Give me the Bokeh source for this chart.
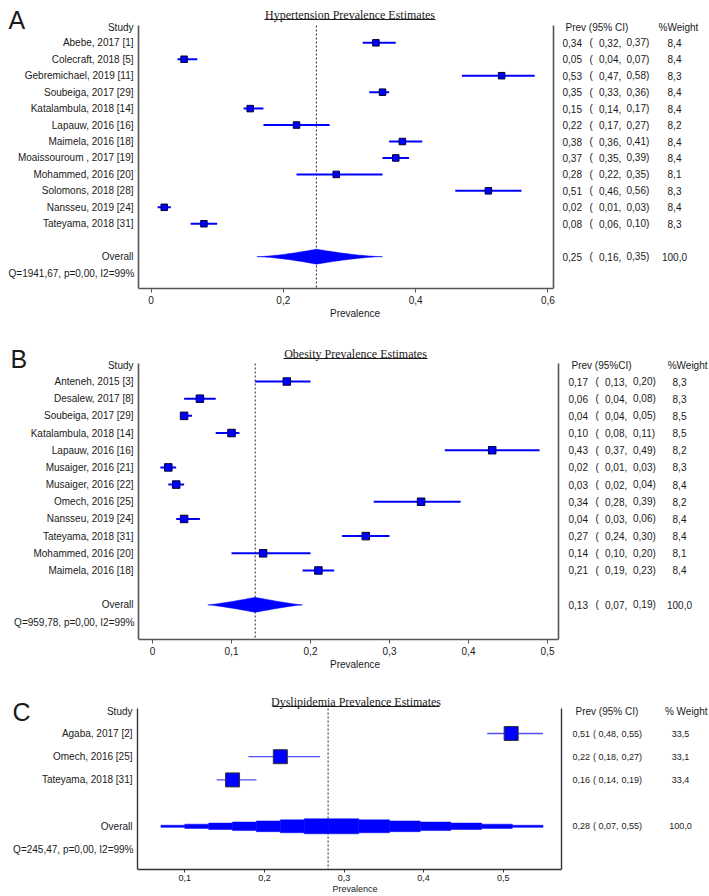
import numpy as np
from bokeh.plotting import figure
from bokeh.layouts import column
from bokeh.models import Range1d, FixedTicker, CustomJSTickFormatter
from bokeh.core.properties import value
from bokeh.embed import file_html
from bokeh.resources import INLINE

# ---------------- Panel A : Hypertension ----------------
htn_studies = ["Abebe, 2017 [1]", "Colecraft, 2018 [5]", "Gebremichael, 2019 [11]",
               "Soubeiga, 2017 [29]", "Katalambula, 2018 [14]", "Lapauw, 2016 [16]",
               "Maimela, 2016 [18]", "Moaissouroum , 2017 [19]", "Mohammed, 2016 [20]",
               "Solomons, 2018 [28]", "Nansseu, 2019 [24]", "Tateyama, 2018 [31]"]
htn_prev = [0.34, 0.05, 0.53, 0.35, 0.15, 0.22, 0.38, 0.37, 0.28, 0.51, 0.02, 0.08]
htn_lo = [0.32, 0.04, 0.47, 0.33, 0.14, 0.17, 0.36, 0.35, 0.22, 0.46, 0.01, 0.06]
htn_hi = [0.37, 0.07, 0.58, 0.36, 0.17, 0.27, 0.41, 0.39, 0.35, 0.56, 0.03, 0.10]
htn_weight = [8.4, 8.4, 8.3, 8.4, 8.4, 8.2, 8.4, 8.4, 8.1, 8.3, 8.4, 8.3]
htn_overall = [0.25, 0.16, 0.35]      # estimate, lower, upper
htn_het = [1941.67, 0.00, 99]         # Q, p, I2 (%)
htn_ticks = [0, 0.2, 0.4, 0.6]

# ---------------- Panel B : Obesity ----------------
ob_studies = ["Anteneh, 2015 [3]", "Desalew, 2017 [8]", "Soubeiga, 2017 [29]",
              "Katalambula, 2018 [14]", "Lapauw, 2016 [16]", "Musaiger, 2016 [21]",
              "Musaiger, 2016 [22]", "Omech, 2016 [25]", "Nansseu, 2019 [24]",
              "Tateyama, 2018 [31]", "Mohammed, 2016 [20]", "Maimela, 2016 [18]"]
ob_prev = [0.17, 0.06, 0.04, 0.10, 0.43, 0.02, 0.03, 0.34, 0.04, 0.27, 0.14, 0.21]
ob_lo = [0.13, 0.04, 0.04, 0.08, 0.37, 0.01, 0.02, 0.28, 0.03, 0.24, 0.10, 0.19]
ob_hi = [0.20, 0.08, 0.05, 0.11, 0.49, 0.03, 0.04, 0.39, 0.06, 0.30, 0.20, 0.23]
ob_weight = [8.3, 8.3, 8.5, 8.5, 8.2, 8.3, 8.4, 8.2, 8.4, 8.4, 8.1, 8.4]
ob_overall = [0.13, 0.07, 0.19]
ob_het = [959.78, 0.00, 99]
ob_ticks = [0, 0.1, 0.2, 0.3, 0.4, 0.5]

# ---------------- Panel C : Dyslipidemia ----------------
dys_studies = ["Agaba, 2017 [2]", "Omech, 2016 [25]", "Tateyama, 2018 [31]"]
dys_prev = [0.51, 0.22, 0.16]
dys_lo = [0.48, 0.18, 0.14]
dys_hi = [0.55, 0.27, 0.19]
dys_weight = [33.5, 33.1, 33.4]
dys_overall = [0.28, 0.07, 0.55]
dys_het = [245.47, 0.00, 99]
dys_ticks = [0.1, 0.2, 0.3, 0.4, 0.5]

SANS = "Liberation Sans"
SERIF = "Liberation Serif"
TXT = "#1a1a1a"
BLUE = "#0000ff"
W = 709


def f2(v):
    return f"{v:.2f}".replace(".", ",")


def f1(v):
    return f"{v:.1f}".replace(".", ",")


def make_panel(letter, title, studies, prev, lo, hi, weight, overall, het, ticks, c):
    zero, ppu = c["zero"], c["ppu"]
    top, row0, sp, axis_px = c["top"], c["row0"], c["sp"], c["axis"]

    def X(px):
        return (px - zero) / ppu

    def Y(px):
        return (px - row0) / sp

    height = c["height"]
    p = figure(width=W, height=height,
               x_range=Range1d(X(0), X(W)),
               y_range=Range1d(Y(axis_px), Y(top)),
               output_backend="svg", toolbar_location=None,
               y_axis_location=None,
               min_border_left=0, min_border_right=0, min_border_top=0,
               min_border_bottom=height - (axis_px - top))
    p.xgrid.visible = False
    p.ygrid.visible = False
    p.outline_line_color = None
    p.background_fill_color = "white"
    p.border_fill_color = "white"

    n = len(studies)
    rows = list(range(n))
    r_over = n + 1
    r_q = n + 2

    def txt(xs, ys, texts, align="left", size="10px", font=SANS, color=TXT):
        p.text(x=xs, y=ys, text=texts, text_align=align, text_baseline="middle",
               text_font=value(font), text_font_size=size, text_color=color)

    # spines (left / right) and dashed pooled line
    xl, xr = X(c["spine_l"]), X(c["spine_r"])
    p.segment(x0=[xl, xr], x1=[xl, xr], y0=[Y(c["ftop"])] * 2, y1=[Y(axis_px)] * 2,
              line_color=c["spine_color"], line_width=c["spine_w"])
    p.segment(x0=[overall[0]], x1=[overall[0]], y0=[Y(c["ftop"])], y1=[Y(axis_px)],
              line_color="#222222", line_width=1, line_dash="2 2")

    # confidence intervals and point estimates
    p.segment(x0=lo, x1=hi, y0=rows, y1=rows, line_color=c["ci_color"],
              line_width=c["ci_w"])
    p.scatter(x=prev, y=rows, marker="square", size=c["ms"], fill_color=BLUE,
              line_color=c["ms_line"], line_width=1)

    # pooled estimate shape
    est, olo, ohi = overall
    half = c["dh"] / sp
    if c["stepped"]:
        k = c["steps"]
        le = np.linspace(olo, est, k + 1)
        re = np.linspace(est, ohi, k + 1)
        lefts, rights, hs = [], [], []
        for i in range(k):
            lefts.append(le[i]); rights.append(le[i + 1]); hs.append(half * (i + 1) / k)
        for i in range(k):
            lefts.append(re[i]); rights.append(re[i + 1]); hs.append(half * (k - i) / k)
        hs = np.array(hs)
        p.quad(left=lefts, right=rights, top=r_over - hs, bottom=r_over + hs,
               fill_color=BLUE, line_color=BLUE, line_width=0.5)
    else:
        t = np.linspace(0, 1, 30)
        h = half * t ** c["pow"]
        ux = np.concatenate([olo + (est - olo) * t, est + (ohi - est) * t[1:]])
        uh = np.concatenate([h, h[::-1][1:]])
        xs = np.concatenate([ux, ux[::-1]])
        ys = np.concatenate([r_over - uh, (r_over + uh)[::-1]])
        p.patch(x=xs, y=ys, fill_color=BLUE, line_color=BLUE, line_width=0.5)

    # left column texts
    nr = X(c["names_r"])
    txt([nr], [Y(c["hdr_y"])], ["Study"], align="right")
    txt([nr] * n, rows, studies, align="right")
    txt([nr], [r_over], ["Overall"], align="right")
    q, pv, i2 = het
    txt([X(c["names_r"] + 1)], [r_q], [f"Q={f2(q)}, p={f2(pv)}, I2={i2:.0f}%"], align="right")

    # right column texts
    e_px, o_px, l_px, h_px = c["ci_cols"]
    nf = c["num_font"]
    all_rows = rows + [r_over]
    all_e = list(prev) + [overall[0]]
    all_l = list(lo) + [overall[1]]
    all_h = list(hi) + [overall[2]]
    all_w = list(weight) + [100.0]
    txt([X(c["prev_hdr"])], [Y(c["hdr_y"])], [c["prev_hdr_text"]])
    txt([X(c["wt_hdr"][1])], [Y(c["hdr_y"])], [c["wt_hdr_text"]], align=c["wt_hdr"][0])
    txt([X(e_px)] * len(all_rows), all_rows, [f2(v) for v in all_e], size=nf)
    txt([X(o_px)] * len(all_rows), all_rows, ["("] * len(all_rows), size=nf)
    txt([X(l_px)] * len(all_rows), all_rows, [f2(v) + "," for v in all_l], size=nf)
    txt([X(h_px)] * len(all_rows), all_rows, [f2(v) + ")" for v in all_h], size=nf)
    txt([X(c["wt_c"])] * len(all_rows), all_rows, [f1(v) for v in all_w], align="center",
        size=nf)

    # title with underline, panel letter
    txt([X(c["title_c"])], [Y(c["title_y"])], [title], align="center", size="12px",
        font=SERIF)
    p.segment(x0=[X(c["title_l"])], x1=[X(c["title_r"])],
              y0=[Y(c["title_y"] + 5)], y1=[Y(c["title_y"] + 5)],
              line_color=TXT, line_width=1)
    txt([X(c["letter_x"])], [Y(c["letter_y"])], [letter], size="25px")

    # x axis
    ax = p.xaxis[0]
    ax.bounds = (xl, xr)
    ax.ticker = FixedTicker(ticks=ticks)
    ax.formatter = CustomJSTickFormatter(
        code="return tick === 0 ? '0' : tick.toFixed(1).replace('.', ',');")
    ax.axis_label = "Prevalence"
    ax.axis_label_text_font = SANS
    ax.axis_label_text_font_style = "normal"
    ax.axis_label_text_font_size = c["ax_font"]
    ax.axis_label_text_color = TXT
    ax.axis_label_standoff = c["ax_lab_so"]
    ax.major_label_text_font = SANS
    ax.major_label_text_font_size = c["ax_font"]
    ax.major_label_text_color = TXT
    ax.major_label_standoff = c["tick_so"]
    ax.major_tick_in = 0
    ax.major_tick_out = c["tick_out"]
    ax.minor_tick_in = 0
    ax.minor_tick_out = 0
    ax.axis_line_color = c["spine_color"]
    ax.axis_line_width = c["spine_w"]
    ax.major_tick_line_color = c["spine_color"]
    return p


cfg_a = dict(zero=150.5, ppu=661.5, top=0, row0=42.3, sp=16.45, axis=288, height=330,
             ftop=25, spine_l=138, spine_r=553, spine_color="#555555", spine_w=1.6,
             ci_color=BLUE, ci_w=2, ms=6.5, ms_line="#000033", dh=7.5, stepped=False,
             pow=1.5, names_r=133, hdr_y=27, prev_hdr=565, prev_hdr_text="Prev (95% CI)",
             wt_hdr=("left", 658), wt_hdr_text="%Weight", ci_cols=(562, 589, 598.5, 626),
             wt_c=674, num_font="10px", title_c=349.5, title_l=264, title_r=435,
             title_y=14, letter_x=8, letter_y=19, ax_font="10px", ax_lab_so=1, tick_so=3,
             tick_out=4)

cfg_b = dict(zero=152, ppu=790, top=330, row0=381, sp=17.18, axis=639, height=345,
             ftop=363, spine_l=138, spine_r=558, spine_color="#555555", spine_w=1.6,
             ci_color=BLUE, ci_w=2, ms=7.5, ms_line="#000033", dh=7.5, stepped=False,
             pow=1.2, names_r=133, hdr_y=365, prev_hdr=571, prev_hdr_text="Prev (95%CI)",
             wt_hdr=("right", 707), wt_hdr_text="%Weight", ci_cols=(568, 595, 604.5, 632.5),
             wt_c=679, num_font="10px", title_c=355, title_l=283, title_r=427,
             title_y=353, letter_x=10, letter_y=358.5, ax_font="10px", ax_lab_so=1,
             tick_so=3, tick_out=4)

cfg_c = dict(zero=104.7, ppu=796, top=675, row0=733, sp=23.2, axis=869, height=221,
             ftop=708, spine_l=137, spine_r=561, spine_color="#333333", spine_w=1.4,
             ci_color="#5050ff", ci_w=1.3, ms=14, ms_line="#333333", dh=7.5, stepped=True,
             steps=7, names_r=132, hdr_y=711, prev_hdr=575, prev_hdr_text="Prev (95% CI)",
             wt_hdr=("right", 707), wt_hdr_text="% Weight", ci_cols=(572, 592.5, 598, 621),
             wt_c=680, num_font="9px", title_c=355.5, title_l=272, title_r=439,
             title_y=701, letter_x=12, letter_y=711, ax_font="9px", ax_lab_so=0,
             tick_so=2, tick_out=3)

pa = make_panel("A", "Hypertension Prevalence Estimates", htn_studies, htn_prev, htn_lo,
                htn_hi, htn_weight, htn_overall, htn_het, htn_ticks, cfg_a)
pb = make_panel("B", "Obesity Prevalence Estimates", ob_studies, ob_prev, ob_lo,
                ob_hi, ob_weight, ob_overall, ob_het, ob_ticks, cfg_b)
pc = make_panel("C", "Dyslipidemia Prevalence Estimates", dys_studies, dys_prev, dys_lo,
                dys_hi, dys_weight, dys_overall, dys_het, dys_ticks, cfg_c)

layout = column(pa, pb, pc, spacing=0)
open("out.html", "w").write(file_html(layout, INLINE))
